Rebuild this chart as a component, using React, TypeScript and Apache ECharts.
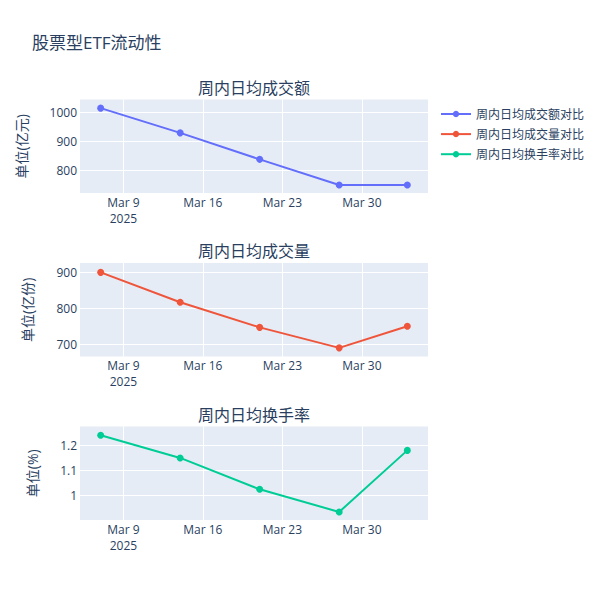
import React, { useEffect, useRef } from 'react';
import * as echarts from 'echarts';

// weekly points (trading-week end dates)
const dates = ['2025-03-07', '2025-03-14', '2025-03-21', '2025-03-28', '2025-04-03'];
const amountValues = [1016, 930, 838, 749, 749];
const volumeValues = [900, 817, 747, 690, 750];
const turnoverValues = [1.24, 1.15, 1.025, 0.935, 1.18];

// tick labels
const xTickDates = ['2025-03-09', '2025-03-16', '2025-03-23', '2025-03-30'];
const amountTicks = [800, 900, 1000];
const volumeTicks = [700, 800, 900];
const turnoverTicks = [1, 1.1, 1.2];

const chartTitle = '股票型ETF流动性';
const seriesNames = ['周内日均成交额对比', '周内日均成交量对比', '周内日均换手率对比'];
const panelTitles = ['周内日均成交额', '周内日均成交量', '周内日均换手率'];
const axisNames = ['单位(亿元)', '单位(亿份)', '单位(%)'];

const DAY = 24 * 3600 * 1000;
const MONTHS = ['Jan', 'Feb', 'Mar', 'Apr', 'May', 'Jun', 'Jul', 'Aug', 'Sep', 'Oct', 'Nov', 'Dec'];
const FONT = '"Open Sans", "Noto Sans CJK SC", sans-serif';
const TEXT = '#2a3f5f';
const COLORS = ['#636efa', '#ef553b', '#00cc96'];

const toTime = (s: string) => {
  const [y, m, d] = s.split('-').map(Number);
  return Date.UTC(y, m - 1, d);
};

const App: React.FC = () => {
  const chartRef = useRef<HTMLDivElement>(null);

  useEffect(() => {
    if (!chartRef.current) return;
    const chart = echarts.init(chartRef.current, undefined, { renderer: 'svg' });

    const times = dates.map(toTime);
    const xTicks = xTickDates.map(toTime);
    const xMin = times[0] - 1.82 * DAY;
    const xMax = times[times.length - 1] + 1.82 * DAY;

    const panels = [
      { values: amountValues, ticks: amountTicks, min: 721, max: 1046, top: 99.5, nameGap: 52 },
      { values: volumeValues, ticks: volumeTicks, min: 666, max: 926, top: 263, nameGap: 46 },
      { values: turnoverValues, ticks: turnoverTicks, min: 0.903, max: 1.275, top: 426.5, nameGap: 41 }
    ];
    const plotLeft = 80;
    const plotWidth = 348;
    const plotHeight = 93.5;

    const option: any = {
      animation: false,
      backgroundColor: '#fff',
      textStyle: { fontFamily: FONT },
      grid: panels.map(p => ({
        left: plotLeft,
        top: p.top,
        width: plotWidth,
        height: plotHeight,
        backgroundColor: '#e5ecf6',
        show: true,
        borderWidth: 0
      })),
      xAxis: panels.map((p, i) => ({
        type: 'value',
        gridIndex: i,
        min: xMin,
        max: xMax,
        axisLine: { show: false },
        axisTick: { show: false, customValues: xTicks },
        splitLine: { show: true, lineStyle: { color: '#fff', width: 1 } },
        axisLabel: {
          customValues: xTicks,
          color: TEXT,
          fontSize: 12,
          fontFamily: FONT,
          lineHeight: 16,
          margin: 1,
          formatter: (v: number) => {
            const d = new Date(v);
            const txt = MONTHS[d.getUTCMonth()] + ' ' + d.getUTCDate();
            return Math.abs(v - xTicks[0]) < DAY / 2 ? txt + '\n' + d.getUTCFullYear() : txt;
          }
        }
      })),
      yAxis: panels.map((p, i) => ({
        type: 'value',
        gridIndex: i,
        min: p.min,
        max: p.max,
        name: axisNames[i],
        nameLocation: 'middle',
        nameGap: p.nameGap,
        nameTextStyle: { color: TEXT, fontSize: 14, fontFamily: FONT },
        axisLine: { show: false },
        axisTick: { show: false, customValues: p.ticks },
        splitLine: { show: true, lineStyle: { color: '#fff', width: 1 } },
        axisLabel: {
          customValues: p.ticks,
          color: TEXT,
          fontSize: 12,
          fontFamily: FONT,
          margin: 3,
          formatter: (v: number) => String(+v.toFixed(3))
        }
      })),
      legend: {
        orient: 'vertical',
        left: 440,
        top: 108,
        padding: 0,
        itemWidth: 30,
        itemHeight: 8,
        itemGap: 8.1,
        textStyle: { color: TEXT, fontSize: 12, fontFamily: FONT },
        data: seriesNames
      },
      graphic: [
        {
          type: 'text',
          left: 32,
          top: 34,
          style: { text: chartTitle, fill: TEXT, fontSize: 17, fontFamily: FONT }
        },
        ...panels.map((p, i) => ({
          type: 'text',
          x: plotLeft + plotWidth / 2,
          y: p.top - 12,
          style: {
            text: panelTitles[i],
            fill: TEXT,
            fontSize: 16,
            fontFamily: FONT,
            align: 'center',
            verticalAlign: 'middle'
          }
        }))
      ],
      series: panels.map((p, i) => ({
        name: seriesNames[i],
        type: 'line',
        xAxisIndex: i,
        yAxisIndex: i,
        data: times.map((t, j) => [t, p.values[j]]),
        symbol: 'circle',
        symbolSize: 7,
        showSymbol: true,
        lineStyle: { color: COLORS[i], width: 2 },
        itemStyle: { color: COLORS[i] },
        emphasis: { disabled: true }
      }))
    };

    chart.setOption(option);

    return () => {
      chart.dispose();
    };
  }, []);

  return (
    <div style={{ position: 'fixed', left: 0, top: 0, width: 600, height: 600, background: '#fff' }}>
      <div ref={chartRef} style={{ width: '100%', height: '100%' }} />
    </div>
  );
};

export default App;
